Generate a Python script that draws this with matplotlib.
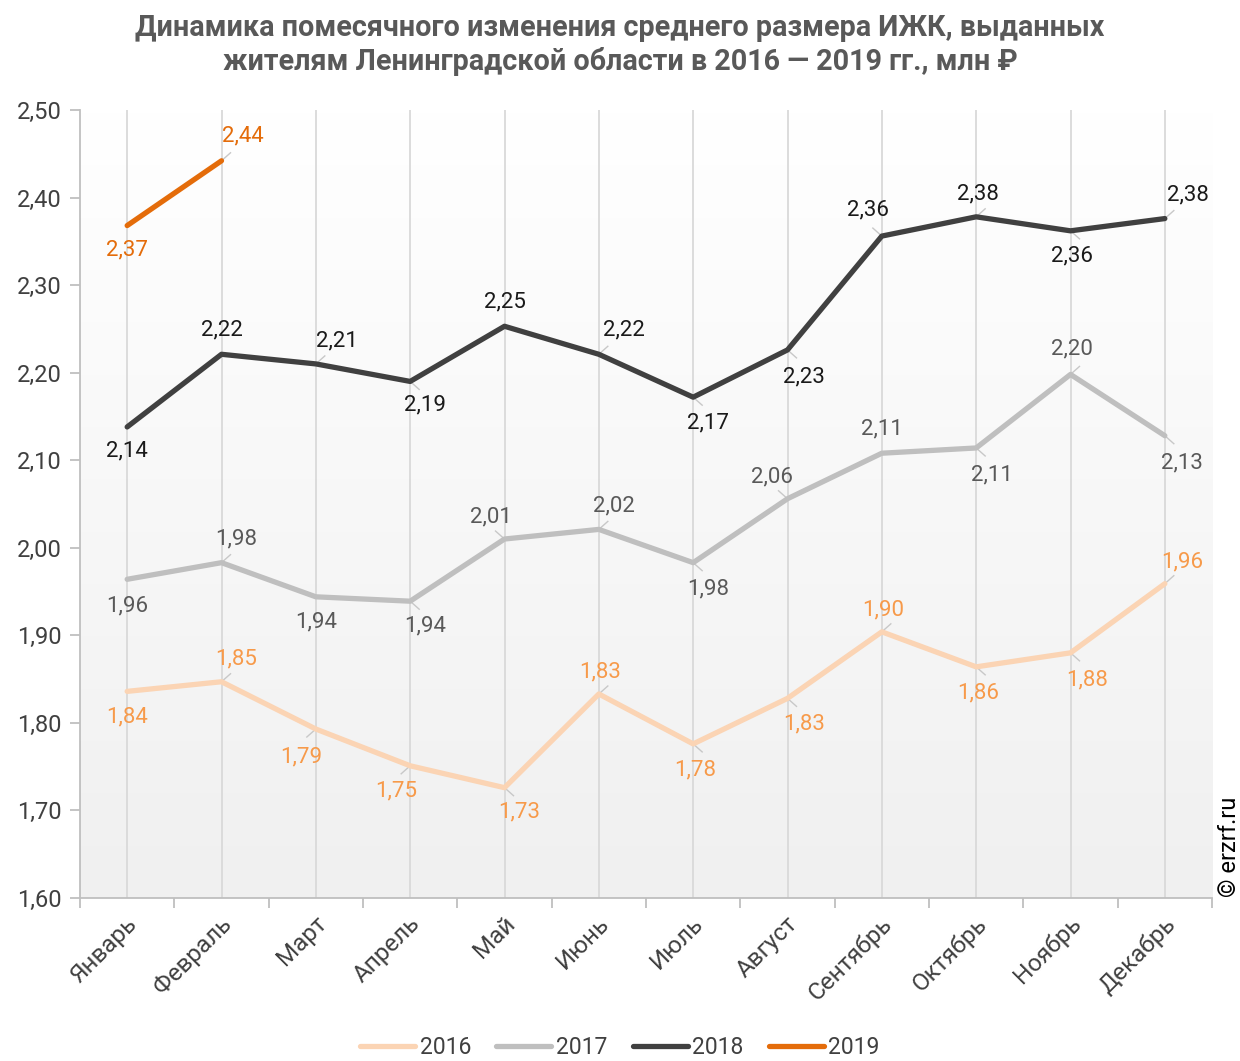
import numpy as np
import matplotlib
matplotlib.use("Agg")
import matplotlib.pyplot as plt
from matplotlib.lines import Line2D

plt.rcParams['font.family'] = ['Roboto', 'DejaVu Sans']

months = ["Январь", "Февраль", "Март", "Апрель", "Май", "Июнь", "Июль",
          "Август", "Сентябрь", "Октябрь", "Ноябрь", "Декабрь"]
y2016 = [1.836, 1.847, 1.793, 1.751, 1.726, 1.833, 1.776, 1.828, 1.904, 1.864, 1.880, 1.959]
y2017 = [1.964, 1.983, 1.944, 1.939, 2.010, 2.021, 1.983, 2.056, 2.108, 2.114, 2.198, 2.128]
y2018 = [2.138, 2.221, 2.210, 2.190, 2.253, 2.221, 2.172, 2.226, 2.356, 2.378, 2.362, 2.376]
y2019 = [2.368, 2.442]
years = ["2016", "2017", "2018", "2019"]
yticks = [1.60, 1.70, 1.80, 1.90, 2.00, 2.10, 2.20, 2.30, 2.40, 2.50]

# label placement (dx, dy) in pixels relative to point (positive dy = down)
off2016 = [(0, 26), (15, -23), (-15, 28), (-14, 25), (15, 24), (1, -22), (2, 26), (17, 26), (1, -22), (2, 26), (17, 27), (17, -22)]
off2017 = [(0, 27), (15, -24), (0, 25), (15, 25), (-14, -22), (15, -23), (15, 26), (-15, -22), (0, -24), (16, 27), (1, -25), (17, 27)]
off2018 = [(0, 24), (0, -24), (21, -23), (15, 24), (0, -24), (25, -24), (15, 26), (16, 27), (-14, -26), (2, -23), (1, 25), (23, -24)]
off2019 = [(0, 24), (21, -25)]

series = [
    (y2016, "#FBD4B4", "#F79A4A", off2016),
    (y2017, "#BFBFBF", "#595959", off2017),
    (y2018, "#404040", "#1A1A1A", off2018),
    (y2019, "#E46C0A", "#E46C0A", off2019),
]

W, H = 1240, 1061
fig = plt.figure(figsize=(W / 100, H / 100), dpi=100)
ax = fig.add_axes([80 / W, 1 - 898 / H, (1212 - 80) / W, (898 - 110) / H])

x = np.arange(len(months))
ax.set_xlim(-0.5, len(months) - 0.5)

# gradient background: light gray at bottom -> white at top
grad = np.linspace(1, 0, 256).reshape(-1, 1)
cmap = matplotlib.colors.LinearSegmentedColormap.from_list("g", ["#FFFFFF", "#F0F0F0"])
ax.imshow(grad, extent=[-0.5, len(months) - 0.5, 1.60, 2.50], aspect='auto',
          cmap=cmap, zorder=0, origin='lower', vmin=0, vmax=1)
ax.set_ylim(1.60, 2.50)

for xi in x:
    ax.axvline(xi, color="#D9D9D9", lw=1.3, zorder=1)

for vals, lc, tc, offs in series:
    xs = x[:len(vals)]
    ax.plot(xs, vals, color=lc, lw=3.8, solid_capstyle='round', solid_joinstyle='round', zorder=3)
    for xi, v, (dx, dy) in zip(xs, vals, offs):
        txt = f"{v:.2f}".replace(".", ",")
        ax.annotate(txt, (xi, v), xytext=(dx * 0.72, -dy * 0.72), textcoords='offset points',
                    ha='center', va='center', fontsize=16, color=tc, zorder=5)
        if dx != 0:
            p0 = ax.transData.transform((xi, v))
            ldx = np.sign(dx) * 9
            ldy = np.sign(dy) * 8
            p1 = (p0[0] + ldx, p0[1] - ldy)
            q = ax.transData.inverted().transform([p0, p1])
            ax.plot(q[:, 0], q[:, 1], color="#C8C8C8", lw=1, zorder=2)

ax.set_yticks(yticks)
ax.set_yticklabels([f"{t:.2f}".replace(".", ",") for t in yticks], fontsize=17, color="#404040")
ax.set_xticks(x)
ax.set_xticklabels([])
for xi, m in zip(x, months):
    ax.annotate(m, (xi, 0), xycoords=('data', 'axes fraction'), xytext=(-1, -10),
                textcoords='offset points', rotation=45, ha='right', va='top',
                rotation_mode='anchor', fontsize=17.5, color="#404040", annotation_clip=False)
ax.set_xticks(np.arange(-0.5, len(months)), minor=True)
ax.tick_params(axis='x', which='major', length=0)
ax.tick_params(axis='x', which='minor', length=7, color="#BFBFBF", width=1.3)
ax.tick_params(axis='y', length=7, color="#BFBFBF", width=1.3, pad=6)
for s in ['top', 'right']:
    ax.spines[s].set_visible(False)
for s in ['left', 'bottom']:
    ax.spines[s].set_color("#BFBFBF")
    ax.spines[s].set_linewidth(1.3)

fig.text(0.5, 1 - 28 / H, "Динамика помесячного изменения среднего размера ИЖК, выданных",
         ha='center', va='center', fontsize=20.7, fontweight='bold', color="#595959")
fig.text(0.5, 1 - 62 / H, "жителям Ленинградской области в 2016 — 2019 гг., млн ₽",
         ha='center', va='center', fontsize=20.7, fontweight='bold', color="#595959")

fig.text(1229 / W, 1 - 847 / H, "© erzrf.ru", rotation=90, ha='center', va='center',
         fontsize=17, color="#000000")

handles = [Line2D([0], [0], color=c, lw=3.8, solid_capstyle='round') for _, c, _, _ in series]
fig.legend(handles, years, loc='center', bbox_to_anchor=(0.5, 1 - 1048 / H), ncol=4,
           frameon=False, fontsize=16.5, handlelength=2.4, handletextpad=0.2,
           columnspacing=1.1, labelcolor="#404040")

fig.savefig("out.png", dpi=100)
